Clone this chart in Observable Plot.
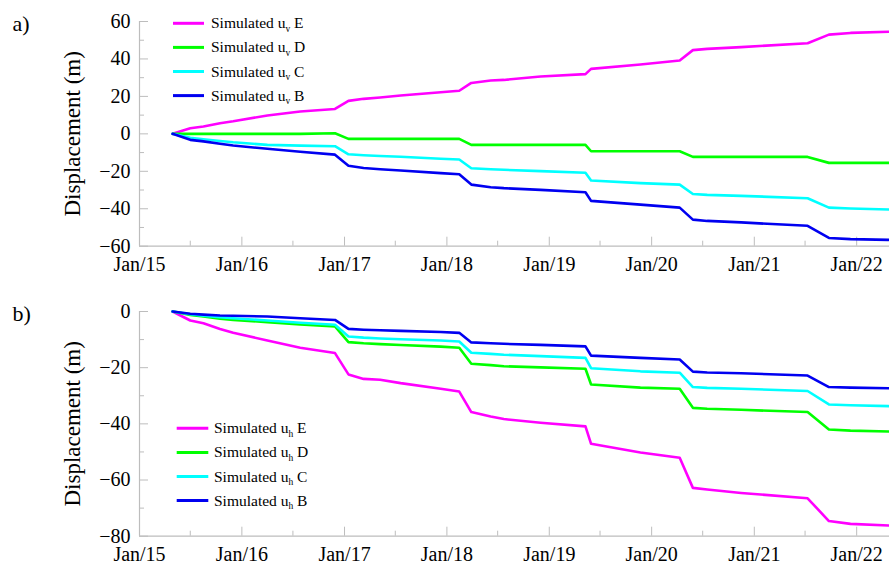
<!DOCTYPE html>
<html><head><meta charset="utf-8">
<script src="https://cdn.jsdelivr.net/npm/d3@7"></script>
<script src="https://cdn.jsdelivr.net/npm/@observablehq/plot@0.6"></script>
<style>
body{margin:0;background:#fff;}
#wrap{width:889px;height:569px;}
#wrap svg{display:block;overflow:visible;}
#wrap svg text{font-family:"Liberation Serif","Times New Roman",serif !important;}
</style></head><body><div id="wrap"></div>
<script>
const dates = ["2015-04-29","2015-07-01","2015-08-17","2015-10-15","2015-12-01","2016-04-01","2016-07-27","2016-11-28","2017-01-15","2017-03-10","2017-05-08","2017-07-20","2017-12-10","2018-02-14","2018-03-29","2018-06-06","2018-07-23","2018-12-01","2019-05-10","2019-05-30","2019-11-22","2020-04-10","2020-05-27","2020-07-17","2020-11-15","2021-07-10","2021-09-24","2021-12-10","2022-04-25"];

// panel a: vertical displacement
const aE = [0, 3.0, 3.9, 5.7, 6.7, 9.8, 11.9, 13.3, 17.6, 18.7, 19.4, 20.5, 22.2, 23.0, 27.2, 28.5, 28.8, 30.6, 31.9, 34.7, 37.0, 39.2, 44.7, 45.4, 46.3, 48.4, 53.0, 53.9, 54.5];
const aD = [0, 0, 0, 0, 0, 0, 0, 0.3, -2.7, -2.7, -2.7, -2.7, -2.7, -2.7, -5.9, -5.9, -5.9, -5.9, -5.9, -9.3, -9.3, -9.3, -12.3, -12.3, -12.3, -12.3, -15.5, -15.5, -15.5];
const aC = [0, -2.1, -2.9, -3.8, -4.5, -5.9, -6.3, -6.6, -10.9, -11.4, -11.8, -12.2, -13.3, -13.7, -18.4, -18.9, -19.2, -19.9, -20.8, -24.9, -26.3, -27.1, -32.1, -32.6, -33.1, -34.4, -39.4, -39.9, -40.4];
const aB = [0, -3.2, -4.0, -5.3, -6.2, -8.0, -9.6, -11.1, -17.0, -18.2, -18.9, -19.6, -21.0, -21.6, -27.1, -28.5, -29.0, -29.9, -31.2, -35.8, -37.8, -39.4, -45.8, -46.5, -47.3, -49.1, -55.6, -56.2, -56.6];

// panel b: horizontal displacement
const bE = [0, -3.2, -4.2, -6.2, -7.6, -10.3, -12.9, -14.8, -22.4, -24.0, -24.3, -25.5, -27.5, -28.5, -35.8, -37.4, -38.3, -39.6, -40.9, -47.1, -50.2, -52.1, -62.8, -63.4, -64.6, -66.5, -74.6, -75.6, -76.2];
const bD = [0, -1.2, -1.8, -2.6, -3.0, -3.8, -4.6, -5.3, -10.9, -11.3, -11.6, -11.9, -12.5, -12.9, -18.6, -19.1, -19.5, -19.9, -20.4, -26.0, -27.1, -27.5, -34.3, -34.6, -35.0, -35.8, -42.0, -42.4, -42.7];
const bC = [0, -1.0, -1.5, -2.0, -2.4, -3.2, -4.0, -4.7, -8.9, -9.3, -9.6, -9.9, -10.3, -10.7, -14.7, -15.1, -15.4, -15.9, -16.5, -20.2, -21.3, -21.8, -26.9, -27.2, -27.5, -28.3, -33.1, -33.4, -33.7];
const bB = [0, -0.8, -1.1, -1.4, -1.5, -1.8, -2.4, -3.0, -6.2, -6.5, -6.7, -6.9, -7.3, -7.6, -11.0, -11.3, -11.5, -11.9, -12.4, -15.7, -16.5, -17.1, -21.4, -21.7, -22.0, -22.8, -26.9, -27.1, -27.3];

const seriesNames = ["E", "D", "C", "B"];
const seriesColors = ["#ff00ff", "#00ff00", "#00ffff", "#0000f0"];

const yTicksA = [-60, -40, -20, 0, 20, 40, 60];
const yMinorA = [-50, -30, -10, 10, 30, 50];
const yTicksB = [-80, -60, -40, -20, 0];
const yMinorB = [-70, -50, -30, -10];
const xMajorYears = [2015, 2016, 2017, 2018, 2019, 2020, 2021, 2022];
const xMinorYears = [2015, 2016, 2017, 2018, 2019, 2020, 2021];
const xDomain = ["2015-01-01", "2022-04-28"];
const yLabel = "Displacement (m)";

const FONT = "Liberation Serif";
const parse = d3.utcParse("%Y-%m-%d");
const xMajor = xMajorYears.map(y => new Date(Date.UTC(y, 0, 1)));
const xMinor = xMinorYears.map(y => new Date(Date.UTC(y, 6, 1)));
const fmt = d3.utcFormat("%b/%y");
const AX = "#bdbdbd";

function panel({vals, yDomain, yTicks, yMinor, height, marginBottom, tag, sub, legendBase, legendX}) {
  const rows = [];
  vals.forEach((arr, k) => arr.forEach((v, i) => rows.push({date: parse(dates[i]), value: v, s: seriesNames[k]})));
  const xd = xDomain.map(parse);
  const chart = Plot.plot({
    width: 889, height, marginLeft: 139, marginRight: 0, marginTop: 21, marginBottom,
    style: {background: "white", color: "black"},
    x: {type: "utc", domain: xd},
    y: {domain: yDomain},
    color: {domain: seriesNames, range: seriesColors},
    marks: [
      Plot.axisX(xMajor, {tickSize: -9, tickFormat: () => "", stroke: AX, label: null}),
      Plot.axisX(xMinor, {tickSize: -5, tickFormat: () => "", stroke: AX, label: null}),
      Plot.axisX(xMajor, {tickSize: 0, tickPadding: 11, tickFormat: fmt, label: null, fontSize: 20, fontFamily: FONT, fill: "black"}),
      Plot.axisY(yTicks, {tickSize: -9, tickFormat: () => "", stroke: AX, label: null}),
      Plot.axisY(yMinor, {tickSize: -5, tickFormat: () => "", stroke: AX, label: null}),
      Plot.axisY(yTicks, {tickSize: 0, tickPadding: 9, label: null, fontSize: 20, fontFamily: FONT, fill: "black"}),
      Plot.ruleY([yDomain[0]], {stroke: AX, strokeWidth: 1.2}),
      Plot.ruleX([xd[0]], {stroke: AX, strokeWidth: 1.2, y1: yDomain[0], y2: yDomain[1]}),
      Plot.lineY(rows, {x: "date", y: "value", z: "s", stroke: "s", strokeWidth: 2.6, strokeLinejoin: "round"}),
      Plot.text([yLabel], {text: d => d, frameAnchor: "left", textAnchor: "middle", lineAnchor: "middle", rotate: -90, dx: -67, fontSize: 23, fontFamily: FONT, fill: "black"}),
      Plot.text([tag], {text: d => d, frameAnchor: "top-left", dx: -127, dy: 2, textAnchor: "start", lineAnchor: "middle", fontSize: 22, fontFamily: FONT, fill: "black"})
    ]
  });
  const svg = d3.select(chart);
  const g = svg.append("g").attr("font-family", FONT).attr("text-anchor", "start");
  seriesNames.forEach((s, k) => {
    const base = legendBase + k * 24.1;
    g.append("line").attr("x1", legendX[0]).attr("x2", legendX[1])
      .attr("y1", base - 5).attr("y2", base - 5)
      .attr("stroke", seriesColors[k]).attr("stroke-width", 3);
    const t = g.append("text").attr("x", legendX[2]).attr("y", base).attr("font-size", 15.5)
      .attr("fill", "black").attr("text-anchor", "start");
    t.append("tspan").text("Simulated u");
    t.append("tspan").attr("font-size", 9.5).attr("dy", 3.5).text(sub);
    t.append("tspan").attr("dy", -3.5).text(" " + s);
  });
  return chart;
}

const wrap = document.getElementById("wrap");
wrap.append(panel({vals: [aE, aD, aC, aB], yDomain: [-60, 60], yTicks: yTicksA, yMinor: yMinorA, height: 290, marginBottom: 44.3, tag: "a)", sub: "v", legendBase: 28.3, legendX: [173, 204, 211]}));
wrap.append(panel({vals: [bE, bD, bC, bB], yDomain: [-80, 0], yTicks: yTicksB, yMinor: yMinorB, height: 279, marginBottom: 33.3, tag: "b)", sub: "h", legendBase: 143.3, legendX: [176.7, 208.3, 214]}));
</script>
</body></html>
